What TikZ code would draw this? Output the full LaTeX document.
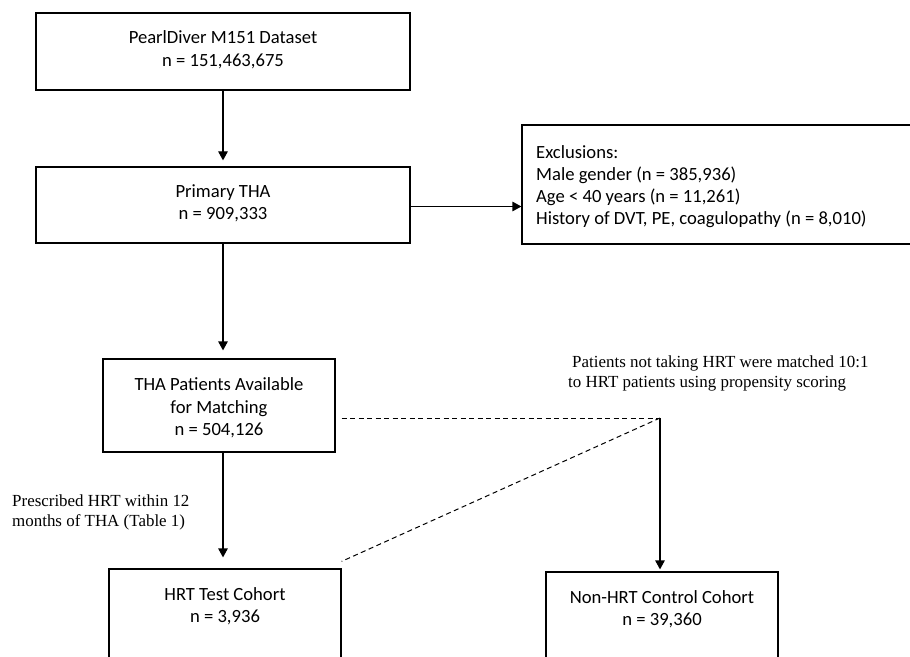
\documentclass[tikz,border=0pt]{standalone}
\usepackage{fontspec}
\setmainfont{Carlito}
\newfontfamily\tnr{Liberation Serif}
\usetikzlibrary{arrows.meta}
\begin{document}
\begin{tikzpicture}[x=1bp,y=-1bp,
  box/.style={draw, line width=1.2bp, inner sep=0pt},
  boxtext/.style={font=\fontsize{18.7}{22.5}\selectfont, align=center, anchor=north, inner sep=0pt},
  listtext/.style={font=\fontsize{18.7}{22.3}\selectfont, align=left, anchor=north west, inner sep=0pt},
  note/.style={font=\tnr\fontsize{17}{20}\selectfont, align=left, anchor=north west, inner sep=0pt},
  flow/.style={line width=1.2bp, -{Triangle[length=9bp,width=9.5bp]}},
  match/.style={line width=1bp, dash pattern=on 5bp off 3.5bp}]
\clip (0,0) rectangle (910,657);
% boxes
\node[box, minimum width=374bp, minimum height=77bp] (b1) at (223,51.5) {};
\node[box, minimum width=374bp, minimum height=76bp] (b2) at (223,205) {};
\node[box, minimum width=438bp, minimum height=119bp] (ex) at (741,184.5) {};
\node[box, minimum width=232bp, minimum height=93bp] (b3) at (219,405.5) {};
\node[box, minimum width=232bp, minimum height=131bp] (b4) at (225,634.5) {};
\node[box, minimum width=232bp, minimum height=128bp] (b5) at (662,636) {};
% texts
\node[boxtext] (t1) at (223,27.7) {\strut PearlDiver M151 Dataset\\n = 151,463,675};
\node[boxtext] (t2) at (223,181.5) {\strut Primary THA\\n = 909,333};
\node[listtext] (tex) at (536,142.5) {\strut Exclusions:\\Male gender (n = 385,936)\\Age < 40 years (n = 11,261)\\History of DVT, PE, coagulopathy (n = 8,010)};
\node[boxtext, font=\fontsize{18.7}{23}\selectfont] (t3) at (219,373.9) {\strut THA Patients Available\\for Matching\\n = 504,126};
\node[boxtext] (t4) at (225,584.5) {\strut HRT Test Cohort\\n = 3,936};
\node[boxtext] (t5) at (662,587.5) {\strut Non-HRT Control Cohort\\n = 39,360};
\node[note] (n1) at (12,492) {\strut Prescribed HRT within 12\\months of THA (Table 1)};
\node[note] (n2) at (568,353) {\strut\hspace*{4bp}Patients not taking HRT were matched 10:1\\to HRT patients using propensity scoring};
% connectors
\coordinate (m) at (660,418);
\draw[flow, shorten >=6bp] (b1.south) -- (b2.north);
\draw[flow] (b2.east |- 0,206.5) -- (ex.west |- 0,206.5);
\draw[flow, shorten >=8bp] (b2.south) -- (b2.south |- b3.north);
\draw[flow, shorten >=11bp] (b3.south -| b2.south) -- (b4.north -| b2.south);
\draw[match] ([xshift=6bp]b3.east |- m) -- (m);
\draw[match] (m) -- ([yshift=7bp]b4.north east);
\draw[flow, shorten >=2bp] (m) -- (m |- b5.north);
\end{tikzpicture}
\end{document}
